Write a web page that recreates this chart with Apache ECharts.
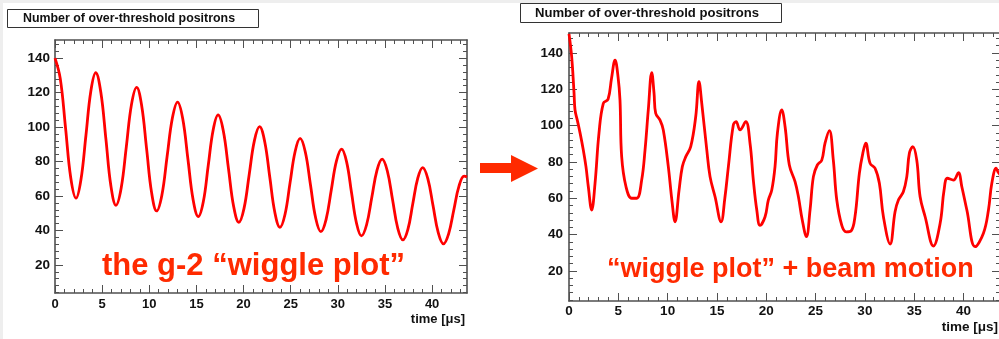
<!DOCTYPE html>
<html>
<head>
<meta charset="utf-8">
<script src="https://cdn.jsdelivr.net/npm/echarts@6/dist/echarts.min.js"></script>
<style>
  html, body { margin: 0; padding: 0; background: #fff; }
  #main { width: 999px; height: 339px; }
</style>
</head>
<body>
<div id="main"></div>
<script>
// time [us] and counts (pure wiggle)
var leftTime = [0, 0.56, 1.12, 1.67, 2.23, 2.75, 3.28, 3.8, 4.32, 4.86, 5.4, 5.93, 6.47, 7.02, 7.57, 8.11,
    8.66, 9.19, 9.72, 10.25, 10.78, 11.34, 11.89, 12.45, 13.0, 13.55, 14.1, 14.65, 15.2, 15.73, 16.25, 16.78,
    17.3, 17.85, 18.4, 18.95, 19.5, 20.05, 20.6, 21.15, 21.7, 22.24, 22.78, 23.32, 23.86, 24.4, 24.93, 25.47,
    26.0, 26.55, 27.1, 27.65, 28.2, 28.75, 29.3, 29.85, 30.4, 30.93, 31.45, 31.98, 32.5, 33.05, 33.6, 34.15,
    34.7, 35.25, 35.8, 36.35, 36.9, 37.43, 37.95, 38.48, 39.0, 39.55, 40.1, 40.65, 41.2, 41.75, 42.3, 42.85,
    43.4, 43.7];
var leftCount = [140, 128.1, 99.4, 70.6, 58.7, 69.4, 95.1, 120.8, 131.5, 120.2, 93, 65.8, 54.6, 64.6, 88.8, 113,
    123, 112.5, 87.2, 61.8, 51.3, 60.6, 82.9, 105.2, 114.5, 104.8, 81.3, 57.8, 48, 56.6, 77.5, 98.4,
    107, 97.9, 75.9, 53.9, 44.7, 52.8, 72.5, 92.1, 100.2, 91.6, 71, 50.4, 41.8, 49.4, 67.6, 85.8,
    93.4, 85.5, 66.4, 47.2, 39.3, 46.3, 63.3, 80.2, 87.2, 79.8, 62, 44.2, 36.8, 43.3, 59.1, 74.9,
    81.4, 74.5, 58, 41.4, 34.5, 40.6, 55.5, 70.3, 76.4, 69.9, 54.3, 38.7, 32.2, 38, 51.9, 65.7,
    71.5, 71];

// right panel (wiggle + beam motion)
var rightTime = [0, 0.27, 0.51, 0.61, 0.84, 1.12, 1.45, 1.72, 1.96, 2.3, 2.64, 3.04, 3.48, 3.96, 4.31, 4.67,
    4.97, 5.17, 5.34, 5.78, 6.36, 6.87, 7.37, 7.71, 8.04, 8.39, 8.62, 8.79, 9.23, 9.56, 10.07, 10.45,
    10.75, 11.16, 11.49, 11.84, 12.34, 12.85, 13.18, 13.46, 13.97, 14.3, 14.81, 15.42, 15.8, 16.16, 16.66, 16.94,
    17.34, 17.92, 18.36, 18.69, 19.04, 19.37, 19.88, 20.21, 20.56, 20.89, 21.13, 21.57, 21.91, 22.34, 22.92, 23.26,
    23.65, 24.07, 24.44, 24.78, 25.18, 25.63, 25.96, 26.4, 26.8, 27.15, 27.66, 28.1, 28.6, 29.0, 29.44, 29.79,
    30.09, 30.53, 31.03, 31.47, 31.88, 32.56, 33.06, 33.4, 33.9, 34.25, 34.51, 34.86, 35.26, 35.6, 36.11, 36.95,
    37.63, 38.03, 38.37, 38.98, 39.48, 39.83, 40.34, 41.18, 42.02, 42.53, 42.87, 43.31, 43.5, 43.7];
var rightCount = [150.5, 138, 118, 108.6, 103, 96, 86.6, 77.4, 66.3, 53.5, 68.2, 95.8, 112.3, 114.5, 126, 136.1,
    127, 114, 82.9, 66.3, 60, 60, 70, 86.6, 108.6, 129.2, 118, 106.8, 103, 97.6, 77.4, 58,
    47, 64.5, 77.4, 82.9, 88.4, 105, 124.2, 112.3, 86.6, 71.9, 60.8, 47, 60, 77.4, 100.3, 102.2,
    97.6, 102.2, 90, 70, 53.5, 45, 49.8, 59, 64.5, 77.4, 95.8, 108.6, 99.4, 78.3, 69.1, 60.8,
    48, 38.8, 53.5, 71.9, 78.3, 81, 90.3, 97.2, 81, 59, 45, 41.5, 42, 50, 73.7, 84.7,
    90.3, 79.2, 76.5, 68.2, 49.8, 34.8, 52.6, 59, 63.6, 71.9, 84.7, 88.4, 81, 60.8, 49.8, 33.7,
    46.2, 64.5, 71, 70, 74.1, 66.3, 53.5, 33.3, 40.7, 53.5, 68.2, 76.5, 74.5, 73];

var xMajor = [0, 5, 10, 15, 20, 25, 30, 35, 40];
var xMinor = [1, 2, 3, 4, 6, 7, 8, 9, 11, 12, 13, 14, 16, 17, 18, 19, 21, 22, 23, 24,
    26, 27, 28, 29, 31, 32, 33, 34, 36, 37, 38, 39, 41, 42, 43];
var yMajor = [20, 40, 60, 80, 100, 120, 140];
var yMinor = [4, 8, 12, 16, 24, 28, 32, 36, 44, 48, 52, 56, 64, 68, 72, 76, 84, 88, 92, 96,
    104, 108, 112, 116, 124, 128, 132, 136, 144, 148];

var chart = echarts.init(document.getElementById('main'));

var frameColor = '#505050';
var font = '"Liberation Sans", Arial, sans-serif';
var red = '#ff2a00';

function pairs(xs, ys) {
    return xs.map(function (x, i) { return [x, ys[i]]; });
}

// ROOT-like frame: ticks inside on all four sides
function frameAxes(g, dim, lo, hi, major, minor, fs, margin) {
    var sides = dim === 'x' ? ['bottom', 'top'] : ['left', 'right'];
    var out = [];
    sides.forEach(function (side, s) {
        [major, minor].forEach(function (vals, m) {
            out.push({
                type: 'value',
                gridIndex: g,
                min: lo,
                max: hi,
                position: side,
                splitLine: { show: false },
                axisLine: { show: m === 0, onZero: false, lineStyle: { color: frameColor, width: 1.6 } },
                axisTick: {
                    show: true, inside: true, length: m === 0 ? 8 : 4, customValues: vals,
                    lineStyle: { color: frameColor, width: 1 }
                },
                axisLabel: {
                    show: s === 0 && m === 0, customValues: major,
                    fontSize: fs, fontWeight: 'bold', fontFamily: font, color: '#111',
                    margin: margin
                }
            });
        });
    });
    return out;
}

var option = {
    animation: false,
    backgroundColor: '#fff',
    grid: [
        { left: 55, top: 40, width: 412, height: 253, outerBoundsMode: 'none', containLabel: false },
        { left: 569, top: 33, width: 431, height: 268, outerBoundsMode: 'none', containLabel: false }
    ],
    xAxis: frameAxes(0, 'x', 0, 43.7, xMajor, xMinor, 13, 5)
        .concat(frameAxes(1, 'x', 0, 43.7, xMajor, xMinor, 13.5, 3)),
    yAxis: frameAxes(0, 'y', 3.7, 150.5, yMajor, yMinor, 13.5, 5)
        .concat(frameAxes(1, 'y', 3.4, 151, yMajor, yMinor, 13.5, 6)),
    series: [
        {
            type: 'line', xAxisIndex: 0, yAxisIndex: 0,
            data: pairs(leftTime, leftCount),
            smooth: 0.4, showSymbol: false,
            lineStyle: { color: '#ff0000', width: 2.8 }
        },
        {
            type: 'line', xAxisIndex: 4, yAxisIndex: 4,
            data: pairs(rightTime, rightCount),
            smooth: 0.4, showSymbol: false,
            lineStyle: { color: '#ff0000', width: 2.8 }
        }
    ],
    graphic: [
        { type: 'rect', shape: { x: 0, y: 0, width: 999, height: 3 }, style: { fill: '#eeeeee' }, z: -1 },
        { type: 'rect', shape: { x: 0, y: 0, width: 3, height: 339 }, style: { fill: '#eeeeee' }, z: -1 },
        { type: 'rect', shape: { x: 7.5, y: 9.5, width: 251, height: 18 }, style: { fill: '#fff', stroke: '#333', lineWidth: 1 } },
        {
            type: 'text', x: 23, y: 18.5,
            style: { text: 'Number of over-threshold positrons', font: 'bold 12.4px ' + font, fill: '#111', textAlign: 'left', textVerticalAlign: 'middle' }
        },
        { type: 'rect', shape: { x: 520.5, y: 3.5, width: 261, height: 19 }, style: { fill: '#fff', stroke: '#333', lineWidth: 1 } },
        {
            type: 'text', x: 535, y: 13,
            style: { text: 'Number of over-threshold positrons', font: 'bold 13.1px ' + font, fill: '#111', textAlign: 'left', textVerticalAlign: 'middle' }
        },
        {
            type: 'text', x: 465, y: 319,
            style: { text: 'time [\u03bcs]', font: 'bold 13px ' + font, fill: '#111', textAlign: 'right', textVerticalAlign: 'middle' }
        },
        {
            type: 'text', x: 998, y: 327,
            style: { text: 'time [\u03bcs]', font: 'bold 13.5px ' + font, fill: '#111', textAlign: 'right', textVerticalAlign: 'middle' }
        },
        {
            type: 'text', x: 102, y: 266,
            style: { text: 'the g-2 \u201cwiggle plot\u201d', font: 'bold 31px ' + font, fill: red, textAlign: 'left', textVerticalAlign: 'middle' }
        },
        {
            type: 'text', x: 607, y: 270,
            style: { text: '\u201cwiggle plot\u201d + beam motion', font: 'bold 27px ' + font, fill: red, textAlign: 'left', textVerticalAlign: 'middle' }
        },
        {
            type: 'polygon',
            shape: { points: [[480, 163], [511, 163], [511, 155], [538, 168.5], [511, 182], [511, 173], [480, 173]] },
            style: { fill: red }
        }
    ]
};

chart.setOption(option);
</script>
</body>
</html>
